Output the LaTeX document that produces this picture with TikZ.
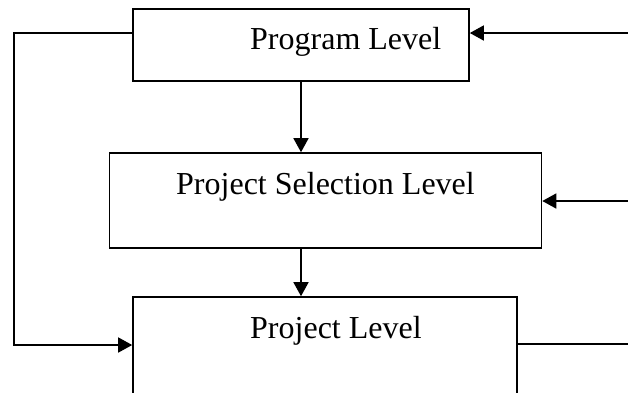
\documentclass[tikz,border=0pt]{standalone}
\usepackage{fontspec}
\setmainfont{Liberation Serif}
\usetikzlibrary{arrows.meta}
\begin{document}
\begin{tikzpicture}[x=1pt,y=-1pt,
  box/.style={draw, line width=1.6pt, rectangle, inner sep=0pt},
  lbl/.style={inner sep=0pt, font=\fontsize{32}{38}\selectfont},
  conn/.style={line width=1.5pt},
  arr/.style={conn, -{Triangle[length=14pt,width=15pt]}}]
\clip (0,0) rectangle (628,392);
\fill[white] (0,0) rectangle (628,392);
% boxes
\node[box, minimum width=336pt, minimum height=72pt] (b1) at (301,45) {};
\node[box, minimum width=432pt, minimum height=95pt] (b2) at (325.5,200.5) {};
\node[box, minimum width=384pt, minimum height=110pt] (b3) at (325,352) {};
% labels
\node[lbl, anchor=base west] (t1) at (250,49) {Program Level};
\node[lbl, anchor=base west] (t2) at (176,194) {Project Selection Level};
\node[lbl, anchor=base west] (t3) at (250,338) {Project Level};
% helper coordinates
\coordinate (r1) at (628,33);
\coordinate (r2) at (628,201);
\coordinate (l1) at (14,33);
\coordinate (l2) at (14,345);
\coordinate (r3) at (628,344);
% connectors
\draw[arr] (r1) -- (b1.east |- r1);
\draw[arr] (r2) -- (b2.east |- r2);
\draw[conn] (b3.east |- r3) -- (r3);
\draw[arr] (b1.west |- l1) -- (l1) -- (l2) -- (b3.west |- l2);
\draw[arr] (b1.south) -- (b2.north -| b1.south);
\draw[arr] (b2.south -| b1.south) -- (b3.north -| b1.south);
\end{tikzpicture}
\end{document}
